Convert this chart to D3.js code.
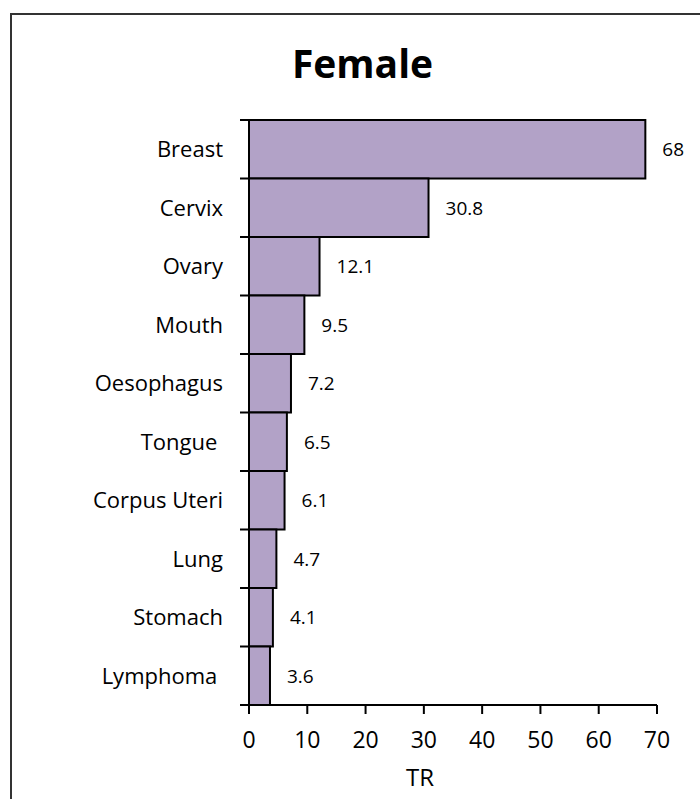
<!DOCTYPE html>
<html><head><meta charset="utf-8">
<script src="https://cdn.jsdelivr.net/npm/d3@7"></script>
<style>html,body{margin:0;padding:0;background:#fff;}svg{display:block;}text{font-family:"Open Sans",Lato,sans-serif;fill:#000;}</style>
</head><body>
<script>
const categories = ["Breast","Cervix","Ovary","Mouth","Oesophagus","Tongue ","Corpus Uteri","Lung","Stomach","Lymphoma "];
const values = [68,30.8,12.1,9.5,7.2,6.5,6.1,4.7,4.1,3.6];
const valueLabels = ["68","30.8","12.1","9.5","7.2","6.5","6.1","4.7","4.1","3.6"];
const xTicks = [0,10,20,30,40,50,60,70];
const title = "Female";
const xTitle = "TR";

const W = 700, H = 799;
const svg = d3.select("body").append("svg").attr("width", W).attr("height", H);

// outer border
svg.append("path").attr("d", `M11,${H+2} L11,14 L${W+2},14`).attr("fill","none").attr("stroke","#333").attr("stroke-width",2);

svg.append("text").attr("x", 362.5).attr("y", 78).attr("text-anchor","middle")
  .attr("font-size", 39).attr("font-weight","bold").text(title);

const x = d3.scaleLinear().domain([0,70]).range([249,657]);
const y = d3.scaleBand().domain(categories).range([120,705]).padding(0);

// bars
svg.selectAll("rect.bar").data(categories).join("rect").attr("class","bar")
  .attr("x", x(0)).attr("y", d => y(d))
  .attr("width", (d,i) => x(values[i]) - x(0)).attr("height", y.bandwidth())
  .attr("fill","#b2a2c7").attr("stroke","#000").attr("stroke-width",2);

// value labels
svg.selectAll("text.val").data(categories).join("text").attr("class","val")
  .attr("x", (d,i) => x(values[i]) + 17).attr("y", d => y(d) + y.bandwidth()/2)
  .attr("dy","0.36em").attr("font-size", 19).text((d,i) => valueLabels[i]);

// y axis
const yAxisG = svg.append("g");
yAxisG.append("line").attr("x1", x(0)).attr("x2", x(0)).attr("y1", 120).attr("y2", 705).attr("stroke","#000").attr("stroke-width",2);
const bounds = categories.map(d => y(d));
yAxisG.selectAll("line.yt").data(bounds).join("line").attr("class","yt")
  .attr("x1", 240).attr("x2", x(0)).attr("y1", d => d).attr("y2", d => d).attr("stroke","#000").attr("stroke-width",2);
yAxisG.selectAll("text.cat").data(categories).join("text").attr("class","cat")
  .attr("x", 223).attr("y", d => y(d) + y.bandwidth()/2).attr("dy","0.36em")
  .attr("text-anchor","end").attr("font-size", 22).style("white-space","pre").text(d => d);

// x axis
const xAxisG = svg.append("g").attr("transform","translate(0,705)");
xAxisG.append("line").attr("x1", 240).attr("x2", x(70)).attr("y1",0).attr("y2",0).attr("stroke","#000").attr("stroke-width",2);
xAxisG.selectAll("line.xt").data(xTicks).join("line").attr("class","xt")
  .attr("x1", d => x(d)).attr("x2", d => x(d)).attr("y1", 0).attr("y2", 9).attr("stroke","#000").attr("stroke-width",2);
xAxisG.selectAll("text.xl").data(xTicks).join("text").attr("class","xl")
  .attr("x", d => x(d)).attr("y", 43).attr("text-anchor","middle").attr("font-size", 23).text(d => d);

svg.append("text").attr("x", 420).attr("y", 786).attr("text-anchor","middle").attr("font-size", 24).text(xTitle);
</script>
</body></html>
